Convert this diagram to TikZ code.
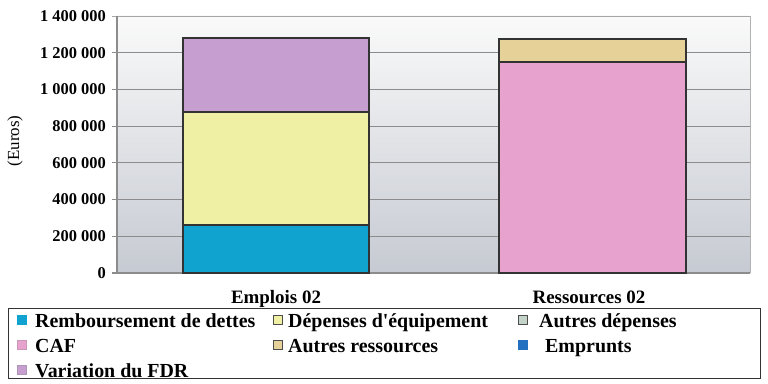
\documentclass[tikz,border=0pt]{standalone}
\usepackage{fontspec}
\setmainfont{Liberation Serif}
\usetikzlibrary{positioning}

\definecolor{rembcol}{RGB}{16,163,208}
\definecolor{depcol}{RGB}{240,240,164}
\definecolor{autdepcol}{RGB}{196,212,200}
\definecolor{cafcol}{RGB}{232,162,206}
\definecolor{autrescol}{RGB}{230,210,152}
\definecolor{empcol}{RGB}{36,112,192}
\definecolor{fdrcol}{RGB}{198,158,208}
\definecolor{gridcol}{RGB}{140,140,140}

\tikzset{
  barseg/.style={draw=black!80, line width=1.2pt},
  ticklab/.style={anchor=east, font=\fontsize{16.5}{16.5}\selectfont\bfseries, inner sep=0pt},
  catlab/.style={anchor=base, font=\fontsize{19}{19}\selectfont\bfseries, inner sep=0pt},
  legkey/.style={draw=black!70, line width=0.5pt, minimum size=9bp, inner sep=0pt},
  legtext/.style={anchor=base west, font=\fontsize{20}{20}\selectfont\bfseries, inner sep=0pt},
}

\begin{document}
\begin{tikzpicture}[x=1bp,y=1bp]
  \useasboundingbox (0,0) rectangle (768,383);

  % plot area, values in thousands of euros
  \begin{scope}[yshift=110bp, y=0.183571bp]
    \shade[top color=white!96!gray, bottom color={rgb,255:red,198;green,202;blue,210}]
      (117,0) rectangle (750,1400);
    \draw[gray!60, line width=0.5pt] (750,0) -- (750,1400);
    \draw[gray!70, line width=0.6pt] (112,1400) -- (750,1400);
    \foreach \v/\lab in {0/0,1/200 000,2/400 000,3/600 000,4/800 000,5/1 000 000,6/1 200 000} {
      \draw[gridcol, line width=1.1pt] (112,\v*200) -- (750,\v*200);
      \node[ticklab] (tick\v) at (106,\v*200) {\lab};
    }
    \node[ticklab] (tick7) at (106,1400) {1 400 000};
    \draw[gridcol, line width=1.1pt] (117,0) -- (117,1400);

    % Emplois 02
    \draw[barseg, fill=rembcol] (183,0) rectangle (369,261);
    \draw[barseg, fill=depcol] (183,261) rectangle (369,877);
    \draw[barseg, fill=fdrcol] (183,877) rectangle (369,1280);
    % Ressources 02
    \draw[barseg, fill=cafcol] (499,0) rectangle (686,1149);
    \draw[barseg, fill=autrescol] (499,1149) rectangle (686,1275);
  \end{scope}

  \node[rotate=90, font=\fontsize{17}{17}\selectfont, inner sep=0pt] (euros) at (15,242) {(Euros)};
  \node[catlab] (emplois) at (276,80) {Emplois 02};
  \node[catlab] (ressources) at (589,80) {Ressources 02};

  % legend
  \draw[black!80, line width=1pt] (8,5) rectangle (760,75);
  \node[legkey, fill=rembcol, draw=rembcol] (kremb) at (22,63) {};
  \node[legtext] (lremb) at (35,56) {Remboursement de dettes};
  \node[legkey, fill=depcol] (kdep) at (278,63) {};
  \node[legtext] (ldep) at (288,56) {Dépenses d\textquotesingle équipement};
  \node[legkey, fill=autdepcol] (kautdep) at (523,63) {};
  \node[legtext] (lautdep) at (539,56) {Autres dépenses};
  \node[legkey, fill=cafcol, draw=cafcol!70!gray] (kcaf) at (22,38) {};
  \node[legtext] (lcaf) at (35,31) {CAF};
  \node[legkey, fill=autrescol] (kautres) at (278,38) {};
  \node[legtext] (lautres) at (288,31) {Autres ressources};
  \node[legkey, fill=empcol, draw=empcol] (kemp) at (523,38) {};
  \node[legtext] (lemp) at (545,31) {Emprunts};
  \node[legkey, fill=fdrcol, draw=fdrcol!70!gray] (kfdr) at (22,13) {};
  \node[legtext] (lfdr) at (35,6) {Variation du FDR};
\end{tikzpicture}
\end{document}
